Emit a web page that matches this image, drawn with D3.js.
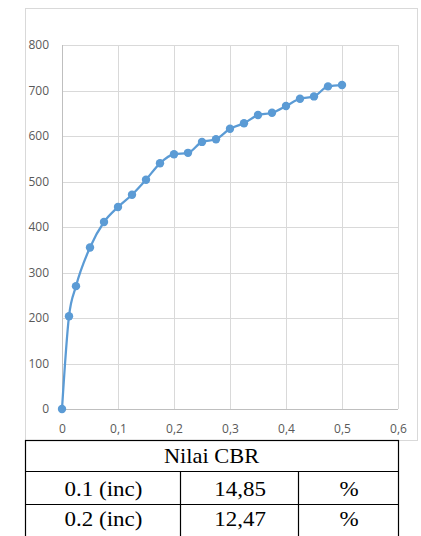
<!DOCTYPE html>
<html>
<head>
<meta charset="utf-8">
<script src="https://cdn.jsdelivr.net/npm/d3@7"></script>
<style>
  body { margin: 0; background: #fff; }
  svg { display: block; }
</style>
</head>
<body>
<svg id="chart" width="421" height="536"></svg>
<script>
// penetration (inch) vs load
const penetration = [0, 0.0125, 0.025, 0.05, 0.075, 0.1, 0.125, 0.15, 0.175, 0.2, 0.225, 0.25,
                     0.275, 0.3, 0.325, 0.35, 0.375, 0.4, 0.425, 0.45, 0.475, 0.5];
const load = [0, 204, 270, 355, 411, 444, 471, 504, 540, 560, 563, 587,
              593, 616, 628, 646, 651, 666, 682, 687, 709, 712];
const xTicks = [0, 0.1, 0.2, 0.3, 0.4, 0.5, 0.6];
const yTicks = [0, 100, 200, 300, 400, 500, 600, 700, 800];

const tableTitle = "Nilai CBR";
const tableRows = [
  ["0.1 (inc)", "14,85", "%"],
  ["0.2 (inc)", "12,47", "%"]
];

const svg = d3.select('#chart');
const margin = { top: 45, left: 62, right: 23, bottom: 127 };
const innerWidth = 421 - margin.left - margin.right;
const innerHeight = 536 - margin.top - margin.bottom;

// chart area frame
svg.append('rect')
  .attr('x', 25.5).attr('y', 8.5)
  .attr('width', 392).attr('height', 432)
  .attr('fill', '#fff')
  .attr('stroke', '#d9d9d9');

const xScale = d3.scaleLinear().domain([0, 0.6]).range([0, innerWidth]);
const yScale = d3.scaleLinear().domain([0, 800]).range([innerHeight, 0]);

const g = svg.append('g')
  .attr('transform', 'translate(' + margin.left + ',' + margin.top + ')');

// gridlines
g.append('g')
  .selectAll('line.h')
  .data(yTicks)
  .enter().append('line')
  .attr('x1', 0).attr('x2', innerWidth)
  .attr('y1', d => Math.round(yScale(d)) + 0.5)
  .attr('y2', d => Math.round(yScale(d)) + 0.5)
  .attr('stroke', d => d === 0 ? '#bfbfbf' : '#d9d9d9');

g.append('g')
  .selectAll('line.v')
  .data(xTicks)
  .enter().append('line')
  .attr('y1', 0).attr('y2', innerHeight)
  .attr('x1', d => Math.round(xScale(d)) + 0.5)
  .attr('x2', d => Math.round(xScale(d)) + 0.5)
  .attr('stroke', d => d === 0 ? '#bfbfbf' : '#d9d9d9');

// axes (labels only)
const xAxis = d3.axisBottom(xScale)
  .tickValues(xTicks)
  .tickSize(0)
  .tickPadding(15)
  .tickFormat(d => d === 0 ? '0' : String(d).replace('.', ','));
g.append('g')
  .attr('transform', 'translate(0,' + innerHeight + ')')
  .call(xAxis)
  .call(s => s.select('.domain').remove())
  .selectAll('text')
  .attr('fill', '#595959')
  .style('font-family', 'Open Sans, sans-serif')
  .style('font-size', '12px');

const yAxis = d3.axisLeft(yScale)
  .tickValues(yTicks)
  .tickSize(0)
  .tickPadding(13);
g.append('g')
  .call(yAxis)
  .call(s => s.select('.domain').remove())
  .selectAll('text')
  .attr('fill', '#595959')
  .style('font-family', 'Open Sans, sans-serif')
  .style('font-size', '12px');

// series
const points = penetration.map((p, i) => ({ x: p, y: load[i] }));
const line = d3.line()
  .x(d => xScale(d.x))
  .y(d => yScale(d.y))
  .curve(d3.curveMonotoneX);

g.append('path')
  .datum(points)
  .attr('fill', 'none')
  .attr('stroke', '#5b9bd5')
  .attr('stroke-width', 2.25)
  .attr('d', line);

g.selectAll('circle')
  .data(points)
  .enter().append('circle')
  .attr('cx', d => xScale(d.x))
  .attr('cy', d => yScale(d.y))
  .attr('r', 4.2)
  .attr('fill', '#5b9bd5');

// table below (bottom edge runs off the picture)
const t = svg.append('g').style('font-family', 'Liberation Serif, serif');
const tx0 = 25, tx1 = 398, colA = 180, colB = 298;
const rowY = [440, 471, 504, 540];

t.append('rect')
  .attr('x', tx0 + 0.5).attr('y', rowY[0] + 0.5)
  .attr('width', tx1 - tx0).attr('height', rowY[3] - rowY[0])
  .attr('fill', 'none').attr('stroke', '#000').attr('stroke-width', 1.2);

[rowY[1], rowY[2]].forEach(y => {
  t.append('line')
    .attr('x1', tx0).attr('x2', tx1 + 1)
    .attr('y1', y + 0.5).attr('y2', y + 0.5)
    .attr('stroke', '#000').attr('stroke-width', 1.2);
});
[colA, colB].forEach(x => {
  t.append('line')
    .attr('x1', x + 0.5).attr('x2', x + 0.5)
    .attr('y1', rowY[1]).attr('y2', rowY[3])
    .attr('stroke', '#000').attr('stroke-width', 1.2);
});

t.append('text')
  .attr('transform', 'translate(' + ((tx0 + tx1) / 2) + ',' + (rowY[1] - 8) + ') scale(1.12,1)')
  .attr('text-anchor', 'middle')
  .style('font-size', '20px')
  .text(tableTitle);

const colCenters = [(tx0 + colA) / 2, (colA + colB) / 2, (colB + tx1) / 2];
const rowBase = [496, 526];
tableRows.forEach((row, i) => {
  row.forEach((cell, j) => {
    t.append('text')
      .attr('transform', 'translate(' + (colCenters[j] + 1) + ',' + rowBase[i] + ') scale(1.15,1)')
      .attr('text-anchor', 'middle')
      .style('font-size', '20px')
      .text(cell);
  });
});
</script>
</body>
</html>
